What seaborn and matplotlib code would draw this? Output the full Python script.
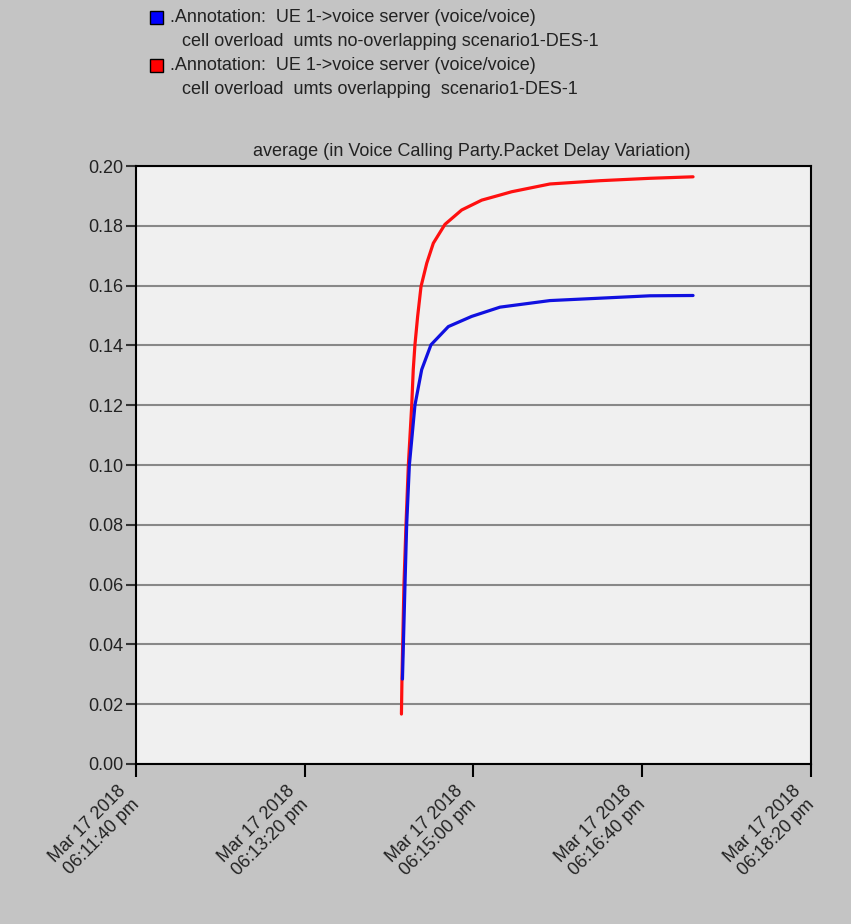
import datetime as dt
import pandas as pd
import matplotlib
matplotlib.use('Agg')
import matplotlib.pyplot as plt
import matplotlib.dates as mdates
import matplotlib.transforms as mtransforms
from matplotlib.patches import Rectangle
from matplotlib.ticker import FuncFormatter
import seaborn as sns

# --- data (seconds after 06:11:40 pm) ---
start = dt.datetime(2018, 3, 17, 18, 11, 40)

no_overlap_sec = [157.9, 159.4, 160.4, 162.0, 165.3, 169.3, 174.8, 185.1, 198.9,
                  215.7, 245.3, 275.0, 304.6, 330.1]
no_overlap_val = [0.0284, 0.060, 0.080, 0.100, 0.120, 0.1319, 0.1402, 0.1463, 0.1497,
                  0.1528, 0.1550, 0.1558, 0.1566, 0.1567]

overlap_sec = [157.3, 157.6, 158.8, 160.0, 161.4, 163.4, 164.3, 165.3, 166.9, 168.9, 172.3,
               176.2, 183.1, 193.0, 204.9, 215.7, 222.6, 245.3, 275.0, 304.6, 330.1]
overlap_val = [0.0167, 0.028, 0.060, 0.080, 0.100, 0.120, 0.1319, 0.1402, 0.1497, 0.1597, 0.1675,
               0.1742, 0.1805, 0.1853, 0.1886, 0.1903, 0.1914, 0.1940, 0.1951, 0.1959, 0.1964]

tick_sec = [0, 100, 200, 300, 400]
y_ticks = [0.00, 0.02, 0.04, 0.06, 0.08, 0.10, 0.12, 0.14, 0.16, 0.18, 0.20]

df = pd.concat([
    pd.DataFrame({'time': [start + dt.timedelta(seconds=s) for s in overlap_sec],
                  'value': overlap_val, 'scenario': 'overlapping'}),
    pd.DataFrame({'time': [start + dt.timedelta(seconds=s) for s in no_overlap_sec],
                  'value': no_overlap_val, 'scenario': 'no-overlapping'}),
])

# --- plot ---
sns.set_theme(style='white')
plt.rcParams['font.family'] = ['Liberation Sans', 'DejaVu Sans']

fig = plt.figure(figsize=(8.51, 9.24), dpi=100, facecolor='#c4c4c4')
ax = fig.add_axes([0.1598, 0.1732, 0.7932, 0.6471])
ax.set_facecolor('#f0f0f0')

sns.lineplot(data=df, x='time', y='value', hue='scenario',
             hue_order=['overlapping', 'no-overlapping'],
             palette={'overlapping': '#ff1010', 'no-overlapping': '#1010e0'},
             linewidth=2.3, sort=False, legend=False, ax=ax)

ax.set_ylim(0, 0.20)
ax.set_yticks(y_ticks)
ax.yaxis.set_major_formatter(FuncFormatter(lambda v, p: f'{v:.2f}'))
ax.set_xlim(start, start + dt.timedelta(seconds=tick_sec[-1]))
ax.set_xticks([start + dt.timedelta(seconds=s) for s in tick_sec])


def fmt_time(v, pos):
    t = mdates.num2date(v)
    return t.strftime('%b %d %Y\n%I:%M:%S ') + t.strftime('%p').lower()


ax.xaxis.set_major_formatter(FuncFormatter(fmt_time))
ax.set_xlabel('')
ax.set_ylabel('')

ax.yaxis.grid(True, color='#888888', linewidth=1.5)
ax.xaxis.grid(False)
for s in ax.spines.values():
    s.set_color('black')
    s.set_linewidth(1.5)

ax.tick_params(axis='y', direction='out', length=7, width=1.5, color='#333333',
               labelsize=13, pad=2, left=True)
ax.tick_params(axis='x', direction='out', length=9, width=1.5, color='black',
               labelsize=13, pad=4, bottom=True)
shift = mtransforms.ScaledTranslation(-0.19, 0, fig.dpi_scale_trans)
for lbl in ax.get_xticklabels():
    lbl.set_rotation(45)
    lbl.set_ha('right')
    lbl.set_rotation_mode('anchor')
    lbl.set_multialignment('right')
    lbl.set_color('#222222')
    lbl.set_transform(lbl.get_transform() + shift)
for lbl in ax.get_yticklabels():
    lbl.set_color('#222222')

# --- legend block at top ---
fig.patches.append(Rectangle((150 / 851, 1 - 24 / 924), 13 / 851, 13 / 924,
                             transform=fig.transFigure, facecolor='#0000ff',
                             edgecolor='black', linewidth=1))
fig.patches.append(Rectangle((150 / 851, 1 - 72 / 924), 13 / 851, 13 / 924,
                             transform=fig.transFigure, facecolor='#ff0000',
                             edgecolor='black', linewidth=1))
legend_rows = [
    (170, 18, '.Annotation:  UE 1->voice server (voice/voice)'),
    (182, 42, 'cell overload  umts no-overlapping scenario1-DES-1'),
    (170, 66, '.Annotation:  UE 1->voice server (voice/voice)'),
    (182, 90, 'cell overload  umts overlapping  scenario1-DES-1'),
]
for x, y, txt in legend_rows:
    fig.text(x / 851, 1 - y / 924, txt, fontsize=13, color='#222222', va='center', ha='left')

fig.text(472 / 851, 1 - 151 / 924, 'average (in Voice Calling Party.Packet Delay Variation)',
         fontsize=13, color='#222222', ha='center', va='center')

fig.savefig('out.png', dpi=100, facecolor=fig.get_facecolor())
